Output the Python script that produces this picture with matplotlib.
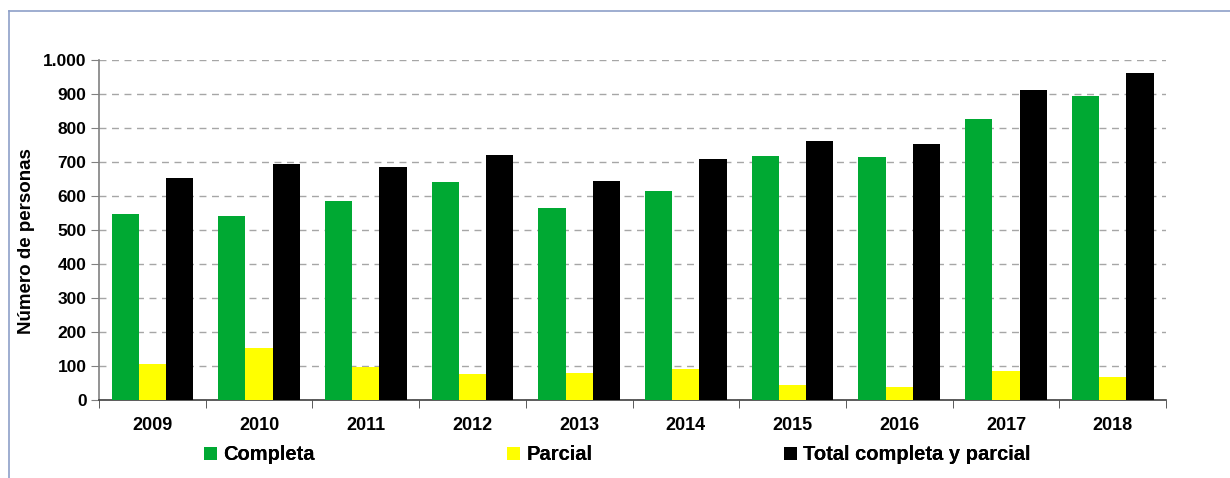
import numpy as np
import matplotlib
matplotlib.use('Agg')
from matplotlib import pyplot as plt
from matplotlib.ticker import FuncFormatter, FixedLocator
from matplotlib.lines import Line2D

plt.rcParams['font.family'] = ['Liberation Sans', 'DejaVu Sans']
plt.rcParams['font.weight'] = 'bold'
plt.rcParams['axes.labelweight'] = 'bold'

years = ['2009', '2010', '2011', '2012', '2013', '2014', '2015', '2016', '2017', '2018']
completa = [547, 541, 585, 641, 565, 615, 718, 715, 826, 894]
parcial = [106, 153, 97, 76, 79, 91, 44, 38, 85, 68]
total = [653, 694, 685, 720, 644, 709, 762, 753, 912, 962]

fig = plt.figure(figsize=(12.3, 4.78), dpi=100)
ax = fig.add_axes([0.0805, 0.163, 0.948 - 0.0805, 0.874 - 0.163])

x = np.arange(len(years))
w = 0.255
b1 = ax.bar(x - w, completa, w, color='#00A933', label='Completa', zorder=3)
b2 = ax.bar(x, parcial, w, color='#FFFF00', label='Parcial', zorder=3)
b3 = ax.bar(x + w, total, w, color='#000000', label='Total completa y parcial', zorder=3)

ax.set_xlim(-0.5, len(years) - 0.5)
ax.set_ylim(0, 1000)
ax.set_yticks(range(0, 1001, 100))
ax.yaxis.set_major_formatter(FuncFormatter(lambda v, p: f'{int(v):,}'.replace(',', '.')))
ax.set_xticks(x)
ax.set_xticklabels(years)
ax.xaxis.set_minor_locator(FixedLocator(np.arange(-0.5, len(years), 1)))
ax.tick_params(axis='x', which='major', length=0, pad=12, labelsize=13)
ax.tick_params(axis='x', which='minor', length=6, color='#404040', direction='out')
ax.tick_params(axis='y', length=6, color='#808080', labelsize=12.5, pad=3)

ax.grid(axis='y', linestyle=(0, (5, 4)), color='#A6A6A6', linewidth=1, zorder=0)
for s in ['top', 'right']:
    ax.spines[s].set_visible(False)
ax.spines['left'].set_color('#808080')
ax.spines['left'].set_linewidth(1.2)
ax.spines['bottom'].set_color('#404040')
ax.spines['bottom'].set_linewidth(1.2)

ax.set_ylabel('Número de personas', fontsize=13.5)
ax.yaxis.set_label_coords(-0.060, 0.468)

# legend entries placed one by one like the original
for h, xpos in [(b1, 204), (b2, 507), (b3, 784)]:
    leg = fig.legend([h], [h.get_label()], loc='center left',
                     bbox_to_anchor=(xpos / 1230, 1 - 455 / 478),
                     frameon=False, fontsize=14.5, handlelength=0.65, handleheight=0.65,
                     handletextpad=0.3, borderpad=0, borderaxespad=0)
    fig.add_artist(leg)

fig.add_artist(Line2D([9 / 1230, 1], [1 - 11 / 478, 1 - 11 / 478], color='#8EA0C8', linewidth=1.2,
                      transform=fig.transFigure))
fig.add_artist(Line2D([9 / 1230, 9 / 1230], [0, 1 - 11 / 478], color='#8EA0C8', linewidth=1.2,
                      transform=fig.transFigure))

plt.savefig('out.png', dpi=100)
